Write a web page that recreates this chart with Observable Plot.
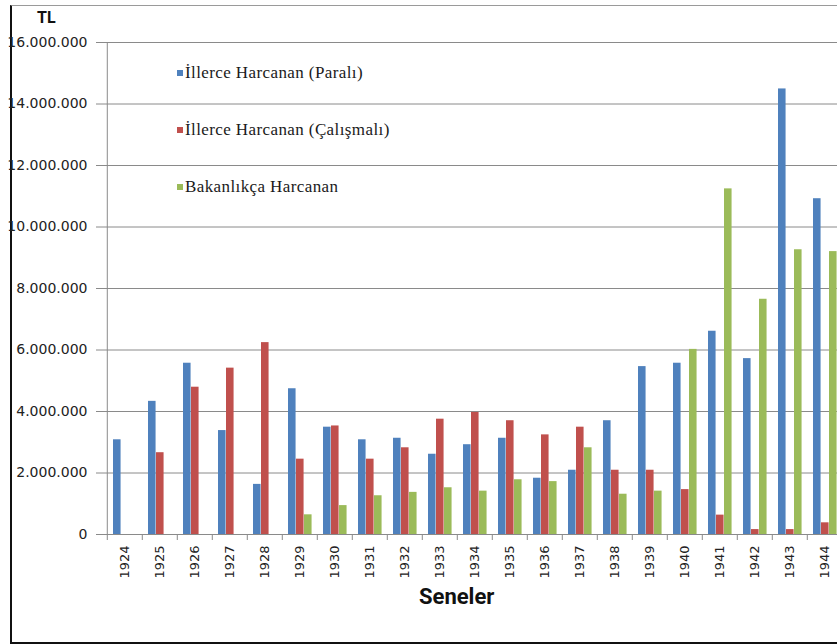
<!DOCTYPE html>
<html>
<head>
<meta charset="utf-8">
<script src="https://cdn.jsdelivr.net/npm/d3@7"></script>
<script src="https://cdn.jsdelivr.net/npm/@observablehq/plot@0.6"></script>
<style>
  html, body { margin: 0; padding: 0; background: #fff; overflow: hidden; }
  #wrap { position: relative; width: 837px; height: 644px; overflow: hidden; background: #fff; }
  #border { position: absolute; left: 10px; top: 5px; width: 900px; height: 636px;
            border-left: 2px solid #111; border-bottom: 2px solid #111; border-top: 1px solid #9a9a9a; }
  #chart { position: absolute; left: 0; top: 0; }
  #chart svg { max-width: none; overflow: hidden; }
  .ttl { position: absolute; font-family: Roboto, sans-serif; font-weight: bold; color: #111; line-height: 1; white-space: nowrap; }
  .leg { position: absolute; font-family: "Liberation Serif", serif; font-size: 17px; letter-spacing: 0.4px; line-height: 1; color: #1a1a1a; white-space: nowrap; }
  .leg span.sw { position: absolute; left: -8px; top: 5.5px; width: 6px; height: 6px; }
</style>
</head>
<body>
<div id="wrap">
  <div id="border"></div>
  <div id="chart"></div>
  <div class="ttl" style="left:37px; top:9.6px; font-size:16px;">TL</div>
  <div class="ttl" style="left:456.7px; top:586.4px; font-size:22px; transform:translateX(-50%);">Seneler</div>
  <div id="legend"></div>
</div>
<script>
// ---- data ----
const years = [1924, 1925, 1926, 1927, 1928, 1929, 1930, 1931, 1932, 1933, 1934,
               1935, 1936, 1937, 1938, 1939, 1940, 1941, 1942, 1943, 1944];
const seriesNames = ["İllerce Harcanan (Paralı)", "İllerce Harcanan (Çalışmalı)", "Bakanlıkça Harcanan"];
const seriesColors = ["#4F81BD", "#C0504D", "#9BBB59"];
const illerceParali = [3080000, 4330000, 5570000, 3380000, 1630000, 4740000, 3490000, 3080000, 3130000, 2610000, 2920000,
                       3130000, 1830000, 2090000, 3700000, 5460000, 5570000, 6610000, 5720000, 14490000, 10920000];
const illerceCalismali = [null, 2660000, 4790000, 5410000, 6240000, 2450000, 3530000, 2450000, 2820000, 3750000, 3970000,
                          3700000, 3240000, 3490000, 2090000, 2090000, 1460000, 630000, 160000, 160000, 380000];
const bakanlikca = [null, null, null, null, null, 640000, 940000, 1260000, 1370000, 1520000, 1410000,
                    1780000, 1720000, 2820000, 1310000, 1410000, 6020000, 11240000, 7650000, 9260000, 9200000];
const yTicks = [0, 2000000, 4000000, 6000000, 8000000, 10000000, 12000000, 14000000, 16000000];

// ---- build ----
const seriesValues = [illerceParali, illerceCalismali, bakanlikca];
const rows = [];
seriesValues.forEach((vals, s) => vals.forEach((v, i) => {
  if (v != null) rows.push({year: years[i], series: seriesNames[s], value: v});
}));

const W = 850, H = 644, ML = 102, MR = 4, MT = 42, MB = 110;
const halfBand = (W - ML - MR) / years.length / 2;
const barW = 8;
const insets = [[6, 2 * halfBand - 6 - barW], [14, 2 * halfBand - 14 - barW], [22, 2 * halfBand - 22 - barW]];
const fmt = d => d3.format(",")(d).replace(/,/g, ".");
const gridColor = "#8a8a8a";

const plot = Plot.plot({
  width: W, height: H,
  marginLeft: ML, marginRight: MR, marginTop: MT, marginBottom: MB,
  style: {fontFamily: "DejaVu Sans", background: "transparent", overflow: "hidden"},
  x: {type: "band", domain: years, padding: 0},
  y: {domain: [0, 16000000]},
  marks: [
    Plot.gridY({ticks: yTicks, stroke: gridColor, strokeOpacity: 1}),
    Plot.ruleY([0], {stroke: gridColor}),
    Plot.ruleX([years[0]], {dx: -halfBand, y1: 0, y2: 16000000, stroke: gridColor}),
    Plot.axisX({tickSize: 6, dx: -halfBand, tickFormat: () => "", stroke: gridColor, label: null}),
    Plot.axisX({tickSize: 0, tickPadding: 11, tickRotate: -90, fontSize: 13, fill: "#222",
                tickFormat: d => String(d), label: null}),
    Plot.axisY({ticks: yTicks, tickFormat: fmt, tickSize: 6, tickPadding: 9, fontSize: 14,
                fill: "#222", stroke: gridColor, label: null}),
    ...seriesNames.map((name, s) => Plot.barY(rows.filter(r => r.series === name), {
      x: "year", y: "value", fill: seriesColors[s],
      insetLeft: insets[s][0], insetRight: insets[s][1]
    }))
  ]
});
document.getElementById("chart").appendChild(plot);

// legend
const legend = document.getElementById("legend");
const legTops = [64, 121, 178];
seriesNames.forEach((name, s) => {
  const d = document.createElement("div");
  d.className = "leg";
  d.style.left = "185px";
  d.style.top = legTops[s] + "px";
  d.innerHTML = `<span class="sw" style="background:${seriesColors[s]}"></span>` + name;
  legend.appendChild(d);
});
</script>
</body>
</html>
